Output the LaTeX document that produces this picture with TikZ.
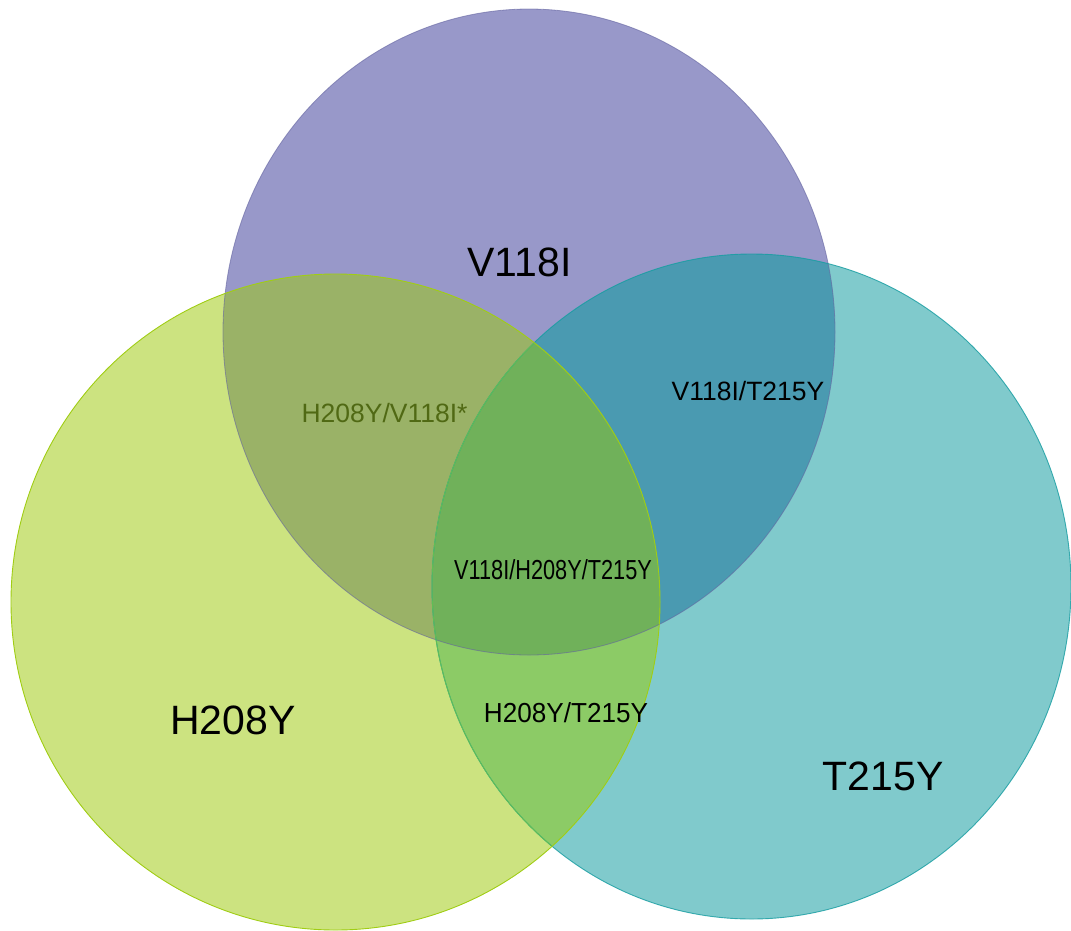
\documentclass[tikz,border=0pt]{standalone}
\usepackage{fontspec}
\usepackage{graphicx}
\setmainfont{Liberation Sans}
\definecolor{cP}{RGB}{152,152,201}
\definecolor{cG}{RGB}{204,227,128}
\definecolor{cT}{RGB}{128,202,204}
\definecolor{cPG}{RGB}{154,178,103}
\definecolor{cPT}{RGB}{74,154,177}
\definecolor{cGT}{RGB}{140,203,102}
\definecolor{cPGT}{RGB}{112,177,90}
\definecolor{bP}{RGB}{100,100,160}
\definecolor{bG}{RGB}{160,205,20}
\definecolor{bT}{RGB}{20,155,160}
\definecolor{bTG}{RGB}{95,190,85}
\definecolor{olivetxt}{RGB}{80,105,20}
\tikzset{
  pathP/.style={insert path={(529,332) ellipse [x radius=306, y radius=323]}},
  pathG/.style={insert path={(335.5,602) ellipse [x radius=324.5, y radius=328]}},
  pathT/.style={insert path={(751.5,586.5) ellipse [x radius=319.5, y radius=332.5]}},
  biglabel/.style={font=\fontsize{41}{41}\selectfont, inner sep=0pt},
  smalllabel/.style={font=\fontsize{26.5}{26.5}\selectfont, inner sep=0pt},
}
\begin{document}
\begin{tikzpicture}[x=1pt,y=-1pt]
\useasboundingbox (0,0) rectangle (1071,930);
\fill[cP,pathP];
\fill[cG,pathG];
\fill[cT,pathT];
\begin{scope}\clip[pathP]; \fill[cPG,pathG]; \end{scope}
\begin{scope}\clip[pathP]; \fill[cPT,pathT]; \end{scope}
\begin{scope}\clip[pathG]; \fill[cGT,pathT]; \end{scope}
\begin{scope}\clip[pathP]; \clip[pathG]; \fill[cPGT,pathT]; \end{scope}
\draw[bP,line width=0.8pt,opacity=0.6,pathP];
\draw[bT,line width=0.9pt,opacity=0.8,pathT];
\begin{scope}\clip[pathG]; \draw[bTG,line width=0.9pt,pathT]; \end{scope}
\draw[bG,line width=0.9pt,pathG];
\node[biglabel] (lP) at (519.5,262) {V118I};
\node[biglabel] (lG) at (233,720) {H208Y};
\node[biglabel] (lT) at (883,776) {T215Y};
\node[smalllabel,text=olivetxt] (lPG) at (384.5,413) {H208Y/V118I*};
\node[smalllabel] (lPT) at (748,391) {V118I/T215Y};
\node[smalllabel,font=\fontsize{27.5}{27.5}\selectfont] (lPGT) at (553,570) {\scalebox{0.79}[1]{V118I/H208Y/T215Y}};
\node[smalllabel,font=\fontsize{27.5}{27.5}\selectfont] (lGT) at (566,713) {\scalebox{0.95}[1]{H208Y/T215Y}};
\end{tikzpicture}
\end{document}
